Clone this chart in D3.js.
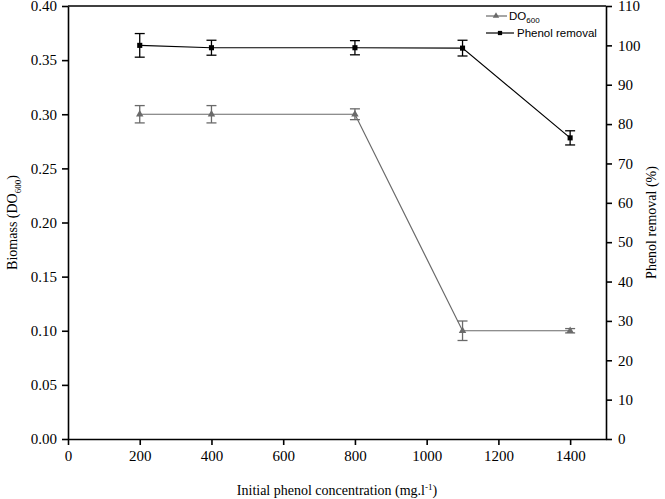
<!DOCTYPE html>
<html><head><meta charset="utf-8">
<script src="https://cdn.jsdelivr.net/npm/d3@7"></script>
<style>body{margin:0;background:#fff}svg{display:block}</style>
</head><body>
<svg id="c" width="665" height="499"></svg>
<script>
const concentrations = [200, 400, 800, 1100, 1400];
const doValues = [0.300, 0.300, 0.300, 0.100, 0.100];
const doErrors = [0.008, 0.008, 0.005, 0.009, 0.002];
const phenolValues = [100.0, 99.4, 99.4, 99.3, 76.5];
const phenolErrors = [3.0, 1.9, 1.8, 2.0, 1.8];
const xTicks = [0, 200, 400, 600, 800, 1000, 1200, 1400];
const yLeftTicks = [0, 0.05, 0.10, 0.15, 0.20, 0.25, 0.30, 0.35, 0.40];
const yRightTicks = [0, 10, 20, 30, 40, 50, 60, 70, 80, 90, 100, 110];

const svg = d3.select("#c");
const L = 68, R = 606, T = 6, B = 439;
const x = d3.scaleLinear().domain([0, 1500]).range([L, R]);
const yL = d3.scaleLinear().domain([0, 0.40]).range([B, T]);
const yR = d3.scaleLinear().domain([0, 110]).range([B, T]);
const serif = "Liberation Serif, Times New Roman, serif";
const sans = "Liberation Sans, Arial, sans-serif";

function styleAxis(g) {
  g.attr("font-family", serif).attr("font-size", 15);
  g.selectAll("path,line").attr("stroke", "#000").attr("stroke-width", 1.6);
  g.selectAll("text").attr("font-family", serif).attr("font-size", 15).attr("fill", "#000");
}
// frame top
svg.append("line").attr("x1", L).attr("x2", R).attr("y1", T).attr("y2", T)
  .attr("stroke", "#000").attr("stroke-width", 1.6);

svg.append("g").attr("transform", `translate(0,${B})`)
  .call(d3.axisBottom(x).tickValues(xTicks).tickSize(6).tickSizeOuter(0).tickPadding(5).tickFormat(d3.format("d")))
  .call(styleAxis);
svg.append("g").attr("transform", `translate(${L},0)`)
  .call(d3.axisLeft(yL).tickValues(yLeftTicks).tickSize(6).tickSizeOuter(0).tickPadding(5).tickFormat(d3.format(".2f")))
  .call(styleAxis);
svg.append("g").attr("transform", `translate(${R},0)`)
  .call(d3.axisRight(yR).tickValues(yRightTicks).tickSize(6).tickSizeOuter(0).tickPadding(6).tickFormat(d3.format("d")))
  .call(styleAxis);

// axis titles
svg.append("text").attr("x", (L + R) / 2).attr("y", 495).attr("text-anchor", "middle")
  .attr("font-family", serif).attr("font-size", 14)
  .html('Initial phenol concentration (mg.l<tspan dy="-5" font-size="9">-1</tspan><tspan dy="5">)</tspan>');
svg.append("text").attr("transform", `translate(17,${(T + B) / 2}) rotate(-90)`).attr("text-anchor", "middle")
  .attr("font-family", serif).attr("font-size", 14)
  .html('Biomass (DO<tspan dy="4" font-size="9">600</tspan><tspan dy="-4">)</tspan>');
svg.append("text").attr("transform", `translate(656,${(T + B) / 2}) rotate(-90)`).attr("text-anchor", "middle")
  .attr("font-family", serif).attr("font-size", 14)
  .text("Phenol removal (%)");

function drawSeries(vals, errs, y, color, shape) {
  const data = concentrations.map((c, i) => ({ c, v: vals[i], e: errs[i] }));
  svg.append("path").datum(data)
    .attr("d", d3.line().x(d => x(d.c)).y(d => y(d.v)))
    .attr("fill", "none").attr("stroke", color).attr("stroke-width", 1.2);
  const eb = svg.append("g").attr("stroke", color).attr("stroke-width", 1.3);
  data.forEach(d => {
    const cx = x(d.c), y1 = y(d.v + d.e), y2 = y(d.v - d.e);
    eb.append("line").attr("x1", cx).attr("x2", cx).attr("y1", y1).attr("y2", y2);
    eb.append("line").attr("x1", cx - 5).attr("x2", cx + 5).attr("y1", y1).attr("y2", y1);
    eb.append("line").attr("x1", cx - 5).attr("x2", cx + 5).attr("y1", y2).attr("y2", y2);
  });
  const sym = d3.symbol().type(shape).size(shape === d3.symbolSquare ? 26 : 24);
  svg.append("g").selectAll("path").data(data).join("path")
    .attr("transform", d => `translate(${x(d.c)},${y(d.v)})`)
    .attr("d", sym).attr("fill", color);
}
drawSeries(doValues, doErrors, yL, "#6a6a6a", d3.symbolTriangle);
drawSeries(phenolValues, phenolErrors, yR, "#000", d3.symbolSquare);

// legend
const leg = [
  { y: 16, x2: 507, mx: 496, tx: 509, color: "#6a6a6a", shape: d3.symbolTriangle, label: 'DO<tspan dy="3" font-size="8">600</tspan>' },
  { y: 33, x2: 514, mx: 500, tx: 517, color: "#000", shape: d3.symbolSquare, label: "Phenol removal" }
];
leg.forEach(l => {
  svg.append("line").attr("x1", 486).attr("x2", l.x2).attr("y1", l.y).attr("y2", l.y)
    .attr("stroke", l.color).attr("stroke-width", 1.2);
  svg.append("path").attr("transform", `translate(${l.mx},${l.y})`)
    .attr("d", d3.symbol().type(l.shape).size(18)).attr("fill", l.color);
  svg.append("text").attr("x", l.tx).attr("y", l.y + 4).attr("font-family", sans).attr("font-size", 11.5)
    .attr("fill", "#000").html(l.label);
});
</script>
</body></html>
